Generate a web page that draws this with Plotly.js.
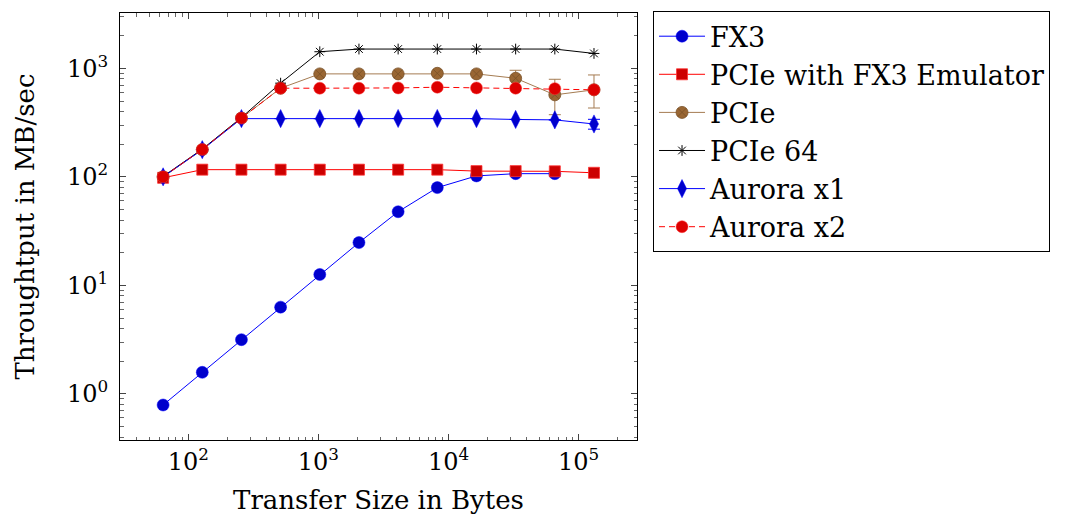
<!DOCTYPE html>
<html>
<head>
<meta charset="utf-8">
<script src="https://cdn.plot.ly/plotly-3.0.1.min.js"></script>
<style>html,body{margin:0;padding:0;background:#fff;}#chart{width:1073px;height:527px;}</style>
</head>
<body>
<div id="chart"></div>
<script>
const transferSizes = [64, 128, 256, 512, 1024, 2048, 4096, 8192, 16384, 32768, 65536, 131072];
const fx3 = [0.79, 1.58, 3.16, 6.3, 12.6, 24.8, 47.7, 79.6, 102, 107, 107, null];
const pcieFx3Emu = [98, 116.5, 116.5, 116.5, 116.5, 116.5, 116.5, 116.5, 113, 113, 112.5, 109];
const pcie = [100, 178, 348, 656, 889, 889, 889, 900, 889, 810, 570, 634];
const pcieErrPlus = [0, 0, 0, 0, 0, 0, 0, 0, 0, 150, 223, 235];
const pcieErrMinus = [0, 0, 0, 0, 0, 0, 0, 0, 0, 150, 196, 203];
const pcie64 = [101, 180, 352, 730, 1423, 1506, 1506, 1506, 1506, 1506, 1506, 1372];
const auroraX1 = [100, 178, 344, 344, 344, 344, 345, 345, 344, 338, 335, 307];
const auroraX1Err = [0, 0, 0, 0, 0, 0, 0, 0, 0, 0, 0, 32];
const auroraX2 = [100, 179, 348, 656, 656, 656, 660, 670, 660, 656, 650, 634];
const seriesNames = ["FX3", "PCIe with FX3 Emulator", "PCIe", "PCIe 64", "Aurora x1", "Aurora x2"];
const xTickVals = [100, 1000, 10000, 100000];
const xTickText = ["10<sup>2</sup>", "10<sup>3</sup>", "10<sup>4</sup>", "10<sup>5</sup>"];
const yTickVals = [1, 10, 100, 1000];
const yTickText = ["10<sup>0</sup>", "10<sup>1</sup>", "10<sup>2</sup>", "10<sup>3</sup>"];

const FONT = "DejaVu Serif, Liberation Serif, serif";

const traces = [
  {x: transferSizes, y: fx3, name: seriesNames[0], mode: "lines+markers",
   line: {color: "#0000ff", width: 1},
   marker: {symbol: "circle", size: 12, color: "#0000cc", line: {color: "#0000ff", width: 0.5}}},
  {x: transferSizes, y: pcieFx3Emu, name: seriesNames[1], mode: "lines+markers",
   line: {color: "#ff0000", width: 1},
   marker: {symbol: "square", size: 11, color: "#cc0000", line: {color: "#ff3333", width: 0.8}}},
  {x: transferSizes, y: pcie, name: seriesNames[2], mode: "lines+markers",
   line: {color: "#a57c52", width: 1},
   error_y: {type: "data", symmetric: false, array: pcieErrPlus, arrayminus: pcieErrMinus, color: "#a57c52", thickness: 1, width: 6},
   marker: {symbol: "circle-x", size: 12, color: "#996633", line: {color: "#7a5228", width: 0.8}}},
  {x: transferSizes, y: pcie64, name: seriesNames[3], mode: "lines+markers",
   line: {color: "#000000", width: 1},
   marker: {symbol: "asterisk-open", size: 9, color: "#000000", line: {color: "#000000", width: 1}}},
  {x: transferSizes, y: auroraX1, name: seriesNames[4], mode: "lines+markers",
   line: {color: "#0000ff", width: 1},
   error_y: {type: "data", array: auroraX1Err, color: "#0000ff", thickness: 1, width: 6},
   marker: {symbol: "diamond-tall", size: 13, color: "#0000cc", line: {color: "#0000ff", width: 0.5}}},
  {x: transferSizes, y: auroraX2, name: seriesNames[5], mode: "lines+markers",
   line: {color: "#ff0000", width: 1, dash: "6px,4px"},
   marker: {symbol: "circle", size: 12, color: "#dd0000", line: {color: "#ff3333", width: 0.5}}}
];

const axisCommon = {
  type: "log",
  showgrid: false,
  zeroline: false,
  showline: true,
  linecolor: "#000",
  linewidth: 1,
  mirror: "allticks",
  ticks: "inside",
  ticklen: 6,
  tickwidth: 1,
  tickcolor: "#444",
  tickmode: "array",
  tickfont: {family: FONT, size: 24, color: "#000"},
  minor: {ticks: "inside", ticklen: 3.5, tickwidth: 1, tickcolor: "#666", dtick: "D1", showgrid: false}
};

const layout = {
  width: 1073, height: 527,
  margin: {l: 120, r: 436, t: 12, b: 87},
  paper_bgcolor: "#fff", plot_bgcolor: "#fff",
  font: {family: FONT, color: "#000"},
  showlegend: true,
  xaxis: Object.assign({}, axisCommon, {
    range: [1.475, 5.448],
    tickvals: xTickVals, ticktext: xTickText,
    title: {text: "Transfer Size in Bytes", font: {family: FONT, size: 26, color: "#000"}, standoff: 16}
  }),
  yaxis: Object.assign({}, axisCommon, {
    range: [-0.425, 3.51],
    tickvals: yTickVals, ticktext: yTickText,
    ticklabelstandoff: 6,
    title: {text: "Throughtput in MB/sec", font: {family: FONT, size: 26, color: "#000"}, standoff: 24}
  }),
  legend: {
    x: 1.031, xanchor: "left", y: 1.002, yanchor: "top",
    bordercolor: "#000", borderwidth: 1, bgcolor: "#fff",
    font: {family: FONT, size: 27, color: "#000"},
    itemwidth: 46,
    tracegroupgap: 0
  }
};

Plotly.newPlot("chart", traces, layout, {displayModeBar: false, staticPlot: true});
</script>
</body>
</html>
